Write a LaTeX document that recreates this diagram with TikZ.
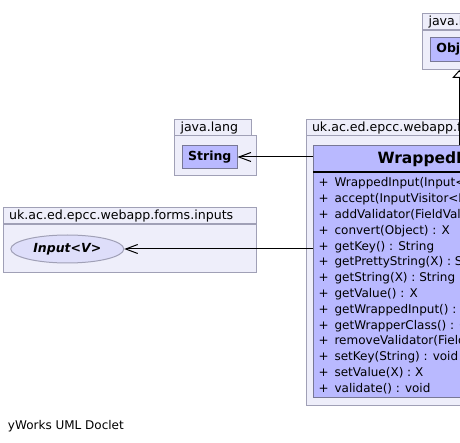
\documentclass[tikz,border=0pt]{standalone}
\usepackage{fontspec}
\setmainfont{DejaVu Sans}
\usetikzlibrary{arrows.meta,shapes.geometric,positioning}

\definecolor{pkgfill}{RGB}{238,238,250}
\definecolor{pkgline}{RGB}{160,160,182}
\definecolor{clsfill}{RGB}{185,185,255}
\definecolor{clsline}{RGB}{120,120,150}
\definecolor{ifcfill}{RGB}{222,222,250}

\tikzset{
  pkgtab/.style={draw=pkgline,fill=pkgfill,anchor=north west,inner xsep=6pt,inner ysep=0pt,
    minimum height=16.5pt,align=left,font=\fontsize{12.6}{14}\selectfont},
  pkgbody/.style={draw=pkgline,fill=pkgfill,anchor=north west,inner sep=0pt},
  clsbox/.style={draw=clsline,fill=clsfill,anchor=north west,inner sep=0pt,
    font=\fontsize{12.5}{14}\selectfont\bfseries},
  ifcbox/.style={ellipse,draw=pkgline,fill=ifcfill,inner sep=0pt,
    font=\fontsize{12.5}{14}\selectfont\bfseries\itshape},
  uses/.style={-{Straight Barb[length=12pt,width=9pt]},line width=1pt},
  extends/.style={-{Triangle[open,fill=white,length=8pt,width=14pt]},line width=1pt}
}

\begin{document}
\begin{tikzpicture}[x=1pt,y=-1pt,line width=1pt]
  \useasboundingbox (0,0) rectangle (460,443);
  \fill[white] (0,0) rectangle (460,443);
  \clip (0,0) rectangle (460,443);

  \node[pkgbody,minimum width=84pt,minimum height=39pt] (objpkg) at (422,30) {};
  \node[pkgtab,text width=65pt] (objtab) at (422,13) {java.lang};
  \node[clsbox,minimum width=57.5pt,minimum height=24pt] (obj) at (430,37) {Object};

  \node[pkgbody,minimum width=82pt,minimum height=40pt] (langpkg) at (174,135) {};
  \node[pkgtab,text width=65pt] (langtab) at (174,119) {java.lang};
  \node[clsbox,minimum width=54.5pt,minimum height=23pt] (string) at (182,145) {String};

  \node[pkgbody,minimum width=253.5pt,minimum height=48pt] (inpkg) at (2.7,224) {};
  \node[pkgtab,text width=241.5pt] (intab) at (2.7,207) {uk.ac.ed.epcc.webapp.forms.inputs};
  \node[ifcbox,minimum width=113pt,minimum height=28pt] (input) at (67.3,249) {Input<V>};

  \node[pkgbody,minimum width=300pt,minimum height=270pt] (wrappkg) at (305.5,135) {};
  \node[pkgtab,text width=260pt] (wraptab) at (305.5,119) {uk.ac.ed.epcc.webapp.forms.inputs};
  \node[clsbox,minimum width=280pt,minimum height=251.5pt] (wrapped) at (313,145.5) {};
  \draw[line width=2pt] ([yshift=-26.5pt]wrapped.north west) -- ([yshift=-26.5pt]wrapped.north east);
  \node[anchor=base west,inner sep=0pt,font=\fontsize{15.5}{17}\selectfont\bfseries] (wrapname) at (377,164) {WrappedInput<X>};
  \node[anchor=north west,inner sep=0pt,align=left,font=\fontsize{12}{15.8}\selectfont] (members) at (318,177.2) {%
    +\enspace WrappedInput(Input<X>)\\
    +\enspace accept(InputVisitor<R>) : R\\
    +\enspace addValidator(FieldValidator<X>) : void\\
    +\enspace convert(Object) : X\\
    +\enspace getKey() : String\\
    +\enspace getPrettyString(X) : String\\
    +\enspace getString(X) : String\\
    +\enspace getValue() : X\\
    +\enspace getWrappedInput() : Input<X>\\
    +\enspace getWrapperClass() : Class<? extends Input>\\
    +\enspace removeValidator(FieldValidator<X>) : void\\
    +\enspace setKey(String) : void\\
    +\enspace setValue(X) : X\\
    +\enspace validate() : void};

  \path (obj |- wrapped.north) edge[extends] (obj |- objpkg.south)
        (string -| wrapped.west) edge[uses] (string.east)
        (input -| wrapped.west) edge[uses] (input.east);

  \node[anchor=base west,inner sep=0pt,font=\fontsize{12}{14}\selectfont] (doclet) at (7.5,429.5) {yWorks UML Doclet};
\end{tikzpicture}
\end{document}
